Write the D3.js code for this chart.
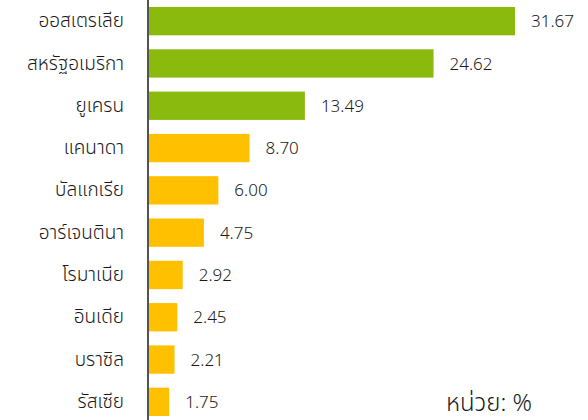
<!DOCTYPE html>
<html>
<head>
<meta charset="utf-8">
<script src="https://cdn.jsdelivr.net/npm/d3@7"></script>
<style>
  body { margin: 0; background: #fff; }
  text { font-family: "Noto Sans", "Noto Sans Thai", "Lato", sans-serif; font-weight: 300; }
</style>
</head>
<body>
<div id="chart"></div>
<script>
// chart data
const countries = ["ออสเตรเลีย", "สหรัฐอเมริกา", "ยูเครน", "แคนาดา", "บัลแกเรีย",
                   "อาร์เจนตินา", "โรมาเนีย", "อินเดีย", "บราซิล", "รัสเซีย"];
const shares = [31.67, 24.62, 13.49, 8.70, 6.00, 4.75, 2.92, 2.45, 2.21, 1.75];
const topCount = 3; // first three bars are green
const unitLabel = "หน่วย: %";

const width = 588, height = 420;

const svg = d3.select("#chart")
    .append("svg")
    .attr("width", width)
    .attr("height", height);

const y = d3.scaleBand()
    .domain(countries)
    .range([0, 423])
    .paddingInner(0.33)
    .paddingOuter(0.165);

const x = d3.scaleLinear()
    .domain([0, d3.max(shares)])
    .range([149, 515]);

// bars
svg.selectAll("rect.bar")
  .data(countries)
  .join("rect")
    .attr("class", "bar")
    .attr("x", x(0))
    .attr("y", d => y(d))
    .attr("width", (d, i) => x(shares[i]) - x(0))
    .attr("height", y.bandwidth())
    .attr("fill", (d, i) => i < topCount ? "#8bba0e" : "#ffc000");

// value labels
svg.selectAll("text.val")
  .data(countries)
  .join("text")
    .attr("class", "val")
    .attr("x", (d, i) => x(shares[i]) + 16)
    .attr("y", d => y(d) + y.bandwidth() / 2)
    .attr("dy", "0.36em")
    .style("font-size", "17px")
    .attr("fill", "#1a1a1a")
    .text((d, i) => shares[i].toFixed(2));

// category axis, labels only plus a plain vertical line
svg.append("g")
    .attr("transform", "translate(148,0)")
    .call(d3.axisLeft(y).tickSize(0).tickPadding(24))
    .call(g => g.select(".domain").remove())
    .call(g => g.selectAll("text")
        .style("font-size", "19px")
        .style("font-family", null)
        .attr("fill", "#1a1a1a"));

svg.append("line")
    .attr("x1", 148).attr("x2", 148)
    .attr("y1", 0).attr("y2", height)
    .attr("stroke", "#1a1a1a")
    .attr("stroke-width", 1.5);

// unit note
svg.append("text")
    .attr("x", 532)
    .attr("y", 411)
    .attr("text-anchor", "end")
    .style("font-size", "24px")
    .attr("fill", "#1a1a1a")
    .text(unitLabel);
</script>
</body>
</html>
